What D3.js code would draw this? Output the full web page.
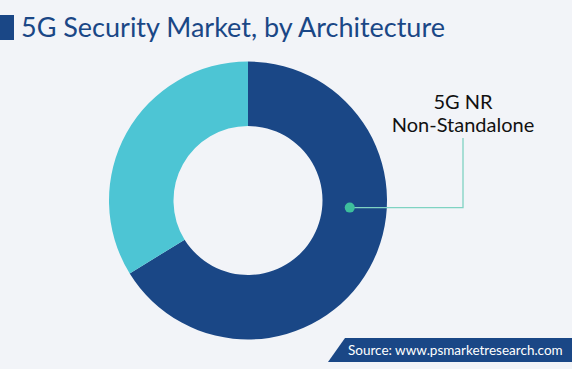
<!DOCTYPE html>
<html>
<head>
<meta charset="utf-8">
<script src="https://cdn.jsdelivr.net/npm/d3@7"></script>
<style>
  body { margin: 0; background: #f2f4f8; }
  svg { display: block; font-family: "Lato", sans-serif; }
</style>
</head>
<body>
<svg id="chart"></svg>
<script>
// data
var segments = ["5G NR Non-Standalone", "5G NR Standalone"];
var shares = [66.2, 33.8];
var labelLines = ["5G NR", "Non-Standalone"];
var titleText = "5G Security Market, by Architecture";
var sourceText = "Source: www.psmarketresearch.com";

var screen = {width: 572, height: 369};
var center = {x: 248, y: 200.5};
var outerR = 139, innerR = 74.5;

var svg = d3.select("#chart")
  .attr("width", screen.width)
  .attr("height", screen.height);

svg.append("rect")
  .attr("width", screen.width).attr("height", screen.height)
  .attr("fill", "#f2f4f8");

// title
svg.append("rect")
  .attr("x", 0).attr("y", 15).attr("width", 14).attr("height", 25)
  .attr("fill", "#1a4786");
svg.append("text")
  .attr("x", 21).attr("y", 37)
  .attr("fill", "#1a4786")
  .attr("font-size", 27)
  .text(titleText);

var cScale = d3.scaleOrdinal()
  .domain(segments)
  .range(["#1a4786", "#4dc5d4"]);

var pie = d3.pie().sort(null).value(function(d) { return d.v; });
var arc = d3.arc().innerRadius(innerR).outerRadius(outerR);

var data = segments.map(function(s, i) { return {name: s, v: shares[i]}; });

var g = svg.append("g")
  .attr("transform", "translate(" + center.x + "," + center.y + ")");

g.selectAll("path")
  .data(pie(data))
  .enter()
  .append("path")
  .attr("d", arc)
  .attr("fill", function(d) { return cScale(d.data.name); });

// callout for the big slice
var dot = d3.pointRadial(94 * Math.PI / 180, 102);
var elbowX = 463 - center.x;
var topY = 138 - center.y;

g.append("path")
  .attr("d", "M" + dot[0] + "," + dot[1] + "L" + elbowX + "," + dot[1] + "L" + elbowX + "," + topY)
  .attr("fill", "none")
  .attr("stroke", "#7fd3c2")
  .attr("stroke-width", 1.3);

g.append("circle")
  .attr("cx", dot[0]).attr("cy", dot[1]).attr("r", 5)
  .attr("fill", "#3dbf9c");

var lbl = svg.append("text")
  .attr("text-anchor", "middle")
  .attr("font-size", 20)
  .attr("fill", "#111");
lbl.selectAll("tspan")
  .data(labelLines)
  .enter()
  .append("tspan")
  .attr("x", 463)
  .attr("y", function(d, i) { return 109 + i * 22.5; })
  .text(function(d) { return d; });

// source banner
svg.append("path")
  .attr("d", "M345,338 L572,338 L572,362 L328,362 Z")
  .attr("fill", "#1a4786");
svg.append("text")
  .attr("x", 348).attr("y", 355)
  .attr("fill", "#fff")
  .attr("font-size", 13.5)
  .text(sourceText);
</script>
</body>
</html>
